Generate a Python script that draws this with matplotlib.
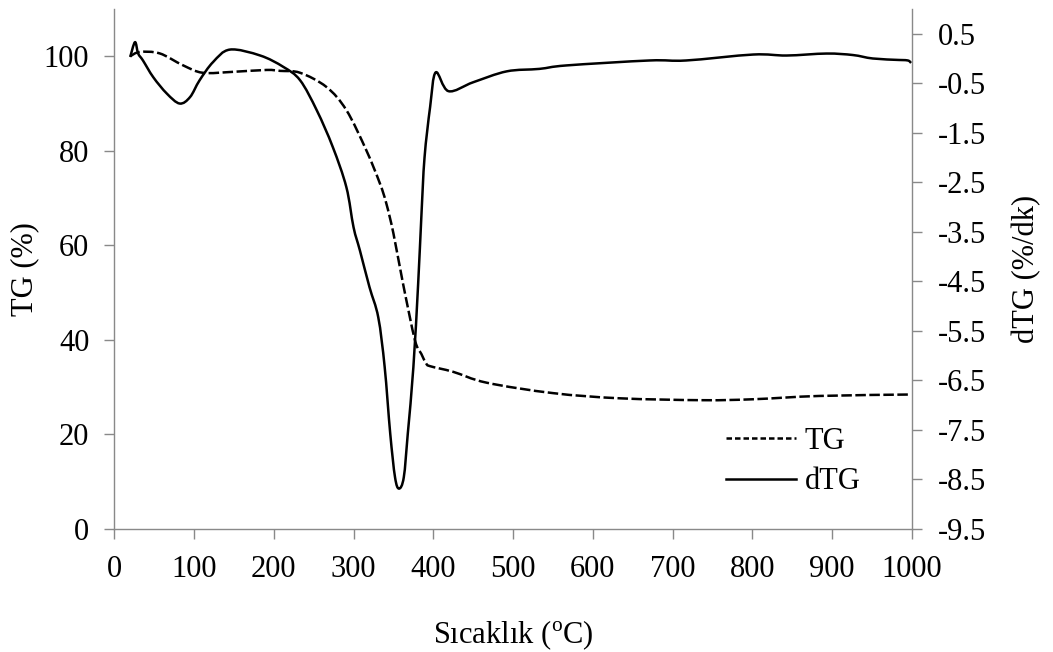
import matplotlib
matplotlib.use('Agg')
import matplotlib.pyplot as plt
from matplotlib.path import Path
from matplotlib.patches import PathPatch
from matplotlib.lines import Line2D
import numpy as np

plt.rc('font', family='Liberation Serif', size=22)
plt.rc('mathtext', fontset='custom', rm='Liberation Serif')

# TG curve (left axis, %)
tg_x = [20, 32, 57, 86, 111, 149, 191, 208, 233, 266, 291, 316, 333, 341, 350,
        362, 377, 385, 391, 396, 425, 467, 550, 634, 738, 801, 884, 997]
tg_y = [100.0, 100.9, 100.6, 98.1, 96.5, 96.7, 97.1, 96.9, 96.5, 93.5, 88.6, 80.1,
        73.1, 68.9, 62.5, 51.9, 39.9, 37.0, 35.0, 34.4, 33.2, 30.9, 28.7, 27.6,
        27.2, 27.4, 28.1, 28.4]

# dTG curve (right axis, %/dk)
dtg_x = [20, 26, 30, 36, 49, 66, 82, 95, 107, 124, 145, 183, 212, 233, 254, 274,
         291, 300, 308, 320, 331, 339, 346, 352, 357, 363, 368, 375, 381, 385,
         389, 396, 403, 419, 450, 492, 533, 567, 671, 717, 801, 843, 893, 926,
         951, 984, 995, 999]
dtg_y = [0.03, 0.33, 0.10, -0.04, -0.38, -0.71, -0.91, -0.78, -0.44, -0.07, 0.18,
         0.06, -0.17, -0.44, -1.05, -1.79, -2.60, -3.41, -3.88, -4.62, -5.23,
         -6.23, -7.58, -8.46, -8.69, -8.46, -7.58, -6.24, -4.55, -3.20, -2.00,
         -0.98, -0.28, -0.66, -0.48, -0.26, -0.21, -0.14, -0.04, -0.04, 0.08,
         0.06, 0.10, 0.07, 0.00, -0.03, -0.04, -0.09]

x_ticks = np.arange(0, 1001, 100)
tg_ticks = np.arange(0, 101, 20)
dtg_ticks = np.arange(-9.5, 0.6, 1.0)

grey = '#898989'


def smooth_path(x, y):
    # Excel-like smoothed line: cubic Bezier segments through the points
    p = np.column_stack([x, y]).astype(float)
    verts = [p[0]]
    codes = [Path.MOVETO]
    n = len(p)
    for i in range(n - 1):
        p0 = p[i - 1] if i > 0 else p[i]
        p3 = p[i + 2] if i + 2 < n else p[i + 1]
        c1 = p[i] + (p[i + 1] - p0) / 6.0
        c2 = p[i + 1] - (p3 - p[i]) / 6.0
        verts += [c1, c2, p[i + 1]]
        codes += [Path.CURVE4] * 3
    return Path(verts, codes)


fig = plt.figure(figsize=(10.53, 6.52), dpi=100)
ax = fig.add_axes([0.1085, 0.1891, 0.7575, 0.7971])
ax2 = ax.twinx()

ax.add_patch(PathPatch(smooth_path(tg_x, tg_y), fill=False, edgecolor='black',
                       lw=1.8, ls=(0, (4.2, 1.4)), capstyle='butt'))
ax2.add_patch(PathPatch(smooth_path(dtg_x, dtg_y), fill=False, edgecolor='black',
                        lw=1.8, joinstyle='round'))

ax.set_xlim(0, 1000)
ax.set_ylim(0, 110)
ax2.set_ylim(-9.5, 1.0)
ax.set_xticks(x_ticks)
ax.set_yticks(tg_ticks)
ax2.set_yticks(dtg_ticks)
ax2.set_yticklabels(['%.1f' % v for v in dtg_ticks])

for a in (ax, ax2):
    for s in a.spines.values():
        s.set_color(grey)
        s.set_linewidth(1.0)
    a.spines['top'].set_visible(False)
    a.tick_params(color=grey, width=1.0, length=7, direction='out')
ax.spines['right'].set_visible(False)
ax2.spines['left'].set_visible(False)
ax2.spines['bottom'].set_visible(False)
ax.tick_params(axis='x', pad=12)
ax.tick_params(axis='y', pad=11)
ax2.tick_params(axis='y', pad=12)

ax.set_xlabel('Sıcaklık ($^{\\mathrm{o}}$C)', labelpad=25)
ax.set_ylabel('TG (%)', labelpad=3.5)
ax2.set_ylabel('dTG (%/dk)', labelpad=18)

handles = [Line2D([], [], color='black', lw=1.8, ls=(0, (2.2, 1.2))),
           Line2D([], [], color='black', lw=1.8, ls='-')]
ax.legend(handles, ['TG', 'dTG'], loc='lower right', bbox_to_anchor=(0.955, 0.033),
          frameon=False, handlelength=2.3, handletextpad=0.27, labelspacing=0.38,
          borderpad=0)

fig.savefig('out.png', dpi=100)
